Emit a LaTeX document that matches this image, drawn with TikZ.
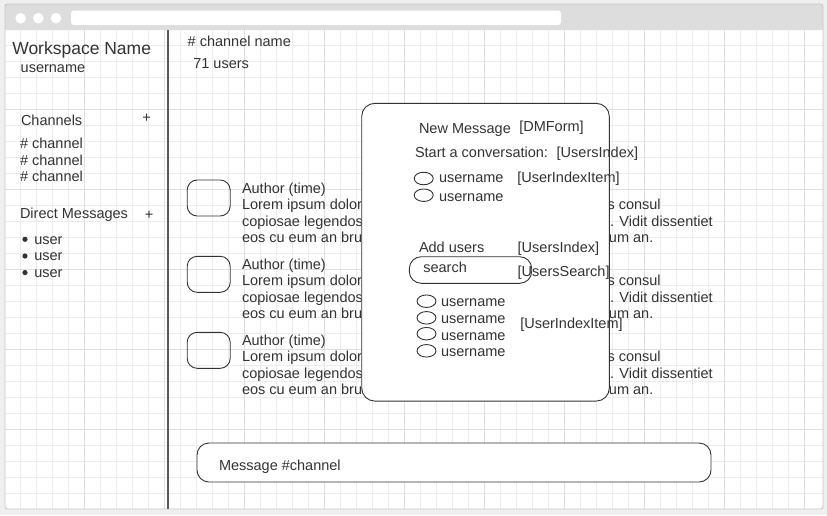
\documentclass[tikz,border=0pt]{standalone}
\usepackage{fontspec}
\setmainfont{Liberation Sans}
\usetikzlibrary{shapes.geometric}
\definecolor{tc}{HTML}{333333}
\definecolor{bgc}{HTML}{EFEFEF}
\definecolor{hdr}{HTML}{DDDDDD}
\definecolor{frm}{HTML}{C8C8C8}
\definecolor{gmin}{HTML}{ECECEC}
\definecolor{gmaj}{HTML}{DFDFDF}
\definecolor{sepc}{HTML}{5A5A5A}
\definecolor{ln}{HTML}{333333}
\newcommand\mysz{\fontsize{14.5}{17}\selectfont}
\newcommand\bigsz{\fontsize{17.5}{20}\selectfont}
\newcommand\msgblock[2]{%
  \node[avatar, minimum width=43pt, minimum height=36pt] (av#1) at (208.7,{#2+4.5}) {};
  \node[txt] (au#1) at (242,#2) {Author (time)};
  \node[txt] (la#1) at (242,{#2+16}) {Lorem ipsum dolor};
  \node[txt, anchor=base east] (ra#1) at (660.7,{#2+16}) {s consul};
  \node[txt] (lb#1) at (242,{#2+32.5}) {copiosae legendos};
  \node[txt, anchor=base east] (rb#1) at (712.7,{#2+32.5}) {. Vidit dissentiet};
  \node[txt] (lc#1) at (242,{#2+49}) {eos cu eum an bru};
  \node[txt, anchor=base east] (rc#1) at (653.3,{#2+49}) {um an.};
}
\begin{document}
\begin{tikzpicture}[x=1pt,y=-1pt,
  txt/.style={anchor=base west, inner sep=0pt, outer sep=0pt, text=tc, font=\mysz},
  bullet/.style={circle, fill=tc, inner sep=0pt, minimum size=5.2pt},
  avatar/.style={draw=ln, line width=0.9pt, rounded corners=10pt, inner sep=0pt},
  pill/.style={draw=ln, line width=0.9pt, ellipse, minimum width=19pt, minimum height=12.5pt, inner sep=0pt},
  boxr/.style={draw=ln, line width=0.9pt, fill=white, inner sep=0pt},
  gminor/.style={draw=gmin, line width=0.9pt},
  gmajor/.style={draw=gmaj, line width=0.9pt}]
\useasboundingbox (0,0) rectangle (827,515);
% background and browser frame
\fill[bgc] (0,0) rectangle (827,515);
\fill[white] (5,30) rectangle (823,509);
\foreach \i in {1,...,50} \draw[gminor] ({4.7+16*\i},30) -- ({4.7+16*\i},509);
\foreach \j in {1,...,29} \draw[gminor] (5,{29+16*\j}) -- (823,{29+16*\j});
\foreach \i in {1,...,10} \draw[gmajor] ({4.7+80*\i},30) -- ({4.7+80*\i},509);
\foreach \j in {1,...,5} \draw[gmajor] (5,{29+80*\j}) -- (823,{29+80*\j});
\fill[hdr, rounded corners=2.5pt] (5,4) rectangle (823,30);
\fill[hdr] (5,20) rectangle (823,30);
\draw[frm, line width=0.9pt, rounded corners=2.5pt] (5,4) rectangle (823,509);
\fill[white] (20.7,18.3) circle (5.3) (38.3,18.3) circle (5.3) (56,18.3) circle (5.3);
\fill[white, rounded corners=3pt] (71,10.5) rectangle (561,25);
% separator
\draw[sepc, line width=2pt] (168,30) -- (168,509);
% sidebar
\node[txt, font=\bigsz] (ws) at (12.3,54.5) {Workspace Name};
\node[txt] (un) at (20.7,72.7) {username};
\node[txt] (chh) at (21,125) {Channels};
\node[txt, anchor=base] (chp) at (146.7,122) {+};
\node[txt] (ch1) at (20,148.3) {\# channel};
\node[txt] (ch2) at (20,165) {\# channel};
\node[txt] (ch3) at (20,181.7) {\# channel};
\node[txt] (dmh) at (20,218.3) {Direct Messages};
\node[txt, anchor=base] (dmp) at (149,219.8) {+};
\node[bullet] (b1) at (25,239.3) {};
\node[txt] (us1) at (34.3,244) {user};
\node[bullet] (b2) at (25,256) {};
\node[txt] (us2) at (34.3,260.7) {user};
\node[bullet] (b3) at (25,272.6) {};
\node[txt] (us3) at (34.3,277.3) {user};
% channel header
\node[txt] (cn) at (187.7,46.7) {\# channel name};
\node[txt] (cu) at (193.3,68.3) {71 users};
% messages
\msgblock{1}{193.5}
\msgblock{2}{269.8}
\msgblock{3}{345.8}
% message input
\node[boxr, rounded corners=12pt, minimum width=514pt, minimum height=39pt] (inp) at (454,462.5) {};
\node[txt] (inpt) at (219,470) {Message \#channel};
% modal
\node[boxr, rounded corners=13pt, minimum width=247.6pt, minimum height=297.7pt] (modal) at (485.5,252.2) {};
\node[txt] (nm) at (419,133.3) {New Message};
\node[txt] (dmf) at (519.3,131.7) {[DMForm]};
\node[txt] (sc) at (415,157.3) {Start a conversation:};
\node[txt] (ui1) at (556.7,157.3) {[UsersIndex]};
\node[pill] (p1) at (423.7,178.5) {};
\node[txt] (n1) at (439,182.7) {username};
\node[txt] (uii1) at (517.3,182.7) {[UserIndexItem]};
\node[pill] (p2) at (423.7,195.2) {};
\node[txt] (n2) at (439,201.7) {username};
\node[txt] (au) at (419,252.7) {Add users};
\node[txt] (ui2) at (517.7,252.7) {[UsersIndex]};
\node[boxr, rounded corners=12pt, minimum width=122.4pt, minimum height=26.6pt] (srch) at (470.5,270) {};
\node[txt] (srt) at (423.3,272.7) {search};
\node[txt] (uss) at (517.7,276) {[UsersSearch]};
\node[pill] (p3) at (426.5,301.2) {};
\node[txt] (n3) at (441,306.7) {username};
\node[pill] (p4) at (426.5,317.8) {};
\node[txt] (n4) at (441,323.3) {username};
\node[pill] (p5) at (426.5,333.7) {};
\node[txt] (n5) at (441,340) {username};
\node[pill] (p6) at (426.5,350.8) {};
\node[txt] (n6) at (441,356.7) {username};
\node[txt] (uii2) at (520.3,328.3) {[UserIndexItem]};
\end{tikzpicture}
\end{document}
